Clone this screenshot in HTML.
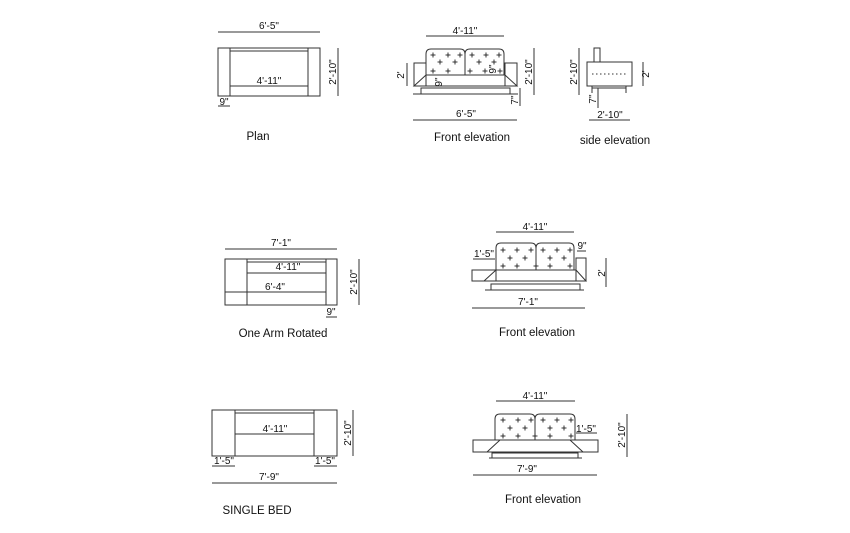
<!DOCTYPE html>
<html><head><style>html,body{margin:0;padding:0;background:#fff}svg{display:block}
text{font-family:"Liberation Sans",sans-serif;fill:#111}</style></head><body>
<svg width="850" height="533" viewBox="0 0 850 533" xmlns="http://www.w3.org/2000/svg">
<defs><g id="pl"><line x1="-2.5" y1="0" x2="2.5" y2="0"/><line x1="0" y1="-2.5" x2="0" y2="2.5"/></g></defs>
<g stroke="#333" stroke-width="1" fill="none">
<!-- Plan 1 -->
<line x1="218" y1="32" x2="320" y2="32"/>
<rect x="218" y="48" width="102" height="48"/>
<line x1="230" y1="48" x2="230" y2="96"/><line x1="308" y1="48" x2="308" y2="96"/>
<line x1="230" y1="51" x2="308" y2="51"/><line x1="230" y1="86" x2="308" y2="86"/>
<line x1="338" y1="48" x2="338" y2="96"/>
<line x1="218" y1="106" x2="230" y2="106"/>
<!-- Front elev 1 -->
<line x1="426" y1="36" x2="504" y2="36"/>
<path d="M426,75 V54 Q426,49 431,49 H460 Q465,49 465,54 V75"/>
<path d="M465,75 V54 Q465,49 470,49 H499 Q504,49 504,54 V75"/>
<rect x="414" y="63" width="12" height="23"/><rect x="505" y="63" width="12" height="23"/>
<path d="M426,75 H505 L517,86 H414 Z"/>
<line x1="413" y1="94" x2="518" y2="94"/>
<path d="M421,94 V88 H427 M510,94 V88 H504"/><line x1="427" y1="88" x2="504" y2="88"/>
<line x1="413" y1="120" x2="517" y2="120"/>
<line x1="407" y1="63" x2="407" y2="86"/><line x1="534" y1="48" x2="534" y2="95"/>
<line x1="520" y1="88" x2="520" y2="106"/>
<!-- side -->
<rect x="594" y="48" width="6" height="14"/>
<rect x="587" y="62" width="45" height="24"/>
<line x1="592" y1="74" x2="628" y2="74" stroke-dasharray="1.5,2.5"/>
<path d="M592,86 V93 M626,86 V93 M592,88 H626"/>
<line x1="579" y1="48" x2="579" y2="95"/><line x1="643" y1="62" x2="643" y2="86"/>
<line x1="598" y1="88" x2="598" y2="108"/>
<line x1="589" y1="120" x2="630" y2="120"/>
<!-- Plan 2 -->
<line x1="225" y1="249" x2="337" y2="249"/>
<rect x="225" y="259" width="112" height="46"/>
<line x1="247" y1="259" x2="247" y2="305"/><line x1="326" y1="259" x2="326" y2="305"/>
<line x1="247" y1="262" x2="326" y2="262"/><line x1="247" y1="273" x2="326" y2="273"/>
<line x1="225" y1="292" x2="326" y2="292"/>
<line x1="359" y1="259" x2="359" y2="305"/>
<line x1="326" y1="317" x2="337" y2="317"/>
<!-- Front elev 2 -->
<line x1="496" y1="232" x2="574" y2="232"/>
<path d="M496,270 V248 Q496,243 501,243 H531 Q536,243 536,248 V270"/>
<path d="M536,270 V248 Q536,243 541,243 H569 Q574,243 574,248 V270"/>
<rect x="472" y="270" width="24" height="11"/>
<rect x="576" y="258" width="10" height="23"/>
<path d="M496,270 H576 L586,281 H484 Z"/>
<line x1="485" y1="290" x2="584" y2="290"/>
<path d="M491,290 V284 H497 M580,290 V284 H574"/><line x1="497" y1="284" x2="574" y2="284"/>
<line x1="472" y1="308" x2="585" y2="308"/>
<line x1="473" y1="259" x2="495" y2="259"/><line x1="577" y1="251" x2="586" y2="251"/>
<line x1="606" y1="258" x2="606" y2="287"/>
<!-- Plan 3 -->
<rect x="212" y="410" width="125" height="46"/>
<line x1="235" y1="410" x2="235" y2="456"/><line x1="314" y1="410" x2="314" y2="456"/>
<line x1="235" y1="413" x2="314" y2="413"/><line x1="235" y1="434" x2="314" y2="434"/>
<line x1="212" y1="466" x2="235" y2="466"/><line x1="314" y1="466" x2="337" y2="466"/>
<line x1="212" y1="483" x2="337" y2="483"/>
<line x1="353" y1="410" x2="353" y2="456"/>
<!-- Front elev 3 -->
<line x1="496" y1="401" x2="575" y2="401"/>
<path d="M495,440 V419 Q495,414 500,414 H530 Q535,414 535,419 V440"/>
<path d="M535,440 V419 Q535,414 540,414 H570 Q575,414 575,419 V440"/>
<rect x="473" y="440" width="125" height="12"/>
<path d="M500,440 L487,452 M570,440 L583,452"/>
<line x1="489" y1="458" x2="582" y2="458"/>
<path d="M492,458 V453 H498 M578,458 V453 H572"/><line x1="498" y1="453" x2="572" y2="453"/>
<line x1="473" y1="475" x2="597" y2="475"/>
<line x1="576" y1="433" x2="597" y2="433"/>
<line x1="627" y1="414" x2="627" y2="457"/>
</g>
<g stroke="#222" stroke-width="0.9">
<use href="#pl" x="433" y="55"/><use href="#pl" x="448" y="55"/><use href="#pl" x="460" y="55"/>
<use href="#pl" x="440" y="62"/><use href="#pl" x="455" y="62"/>
<use href="#pl" x="433" y="71"/><use href="#pl" x="448" y="71"/>
<use href="#pl" x="472" y="55"/><use href="#pl" x="486" y="55"/><use href="#pl" x="499" y="55"/>
<use href="#pl" x="479" y="62"/><use href="#pl" x="494" y="62"/>
<use href="#pl" x="470" y="71"/><use href="#pl" x="485" y="71"/><use href="#pl" x="500" y="71"/>
<use href="#pl" x="503" y="250"/><use href="#pl" x="517" y="250"/><use href="#pl" x="531" y="250"/>
<use href="#pl" x="510" y="258"/><use href="#pl" x="525" y="258"/>
<use href="#pl" x="503" y="266"/><use href="#pl" x="517" y="266"/><use href="#pl" x="536" y="266"/>
<use href="#pl" x="543" y="250"/><use href="#pl" x="557" y="250"/><use href="#pl" x="570" y="250"/>
<use href="#pl" x="550" y="258"/><use href="#pl" x="564" y="258"/>
<use href="#pl" x="550" y="266"/><use href="#pl" x="570" y="266"/>
<use href="#pl" x="503" y="420"/><use href="#pl" x="518" y="420"/><use href="#pl" x="531" y="420"/>
<use href="#pl" x="510" y="428"/><use href="#pl" x="525" y="428"/>
<use href="#pl" x="503" y="436"/><use href="#pl" x="518" y="436"/><use href="#pl" x="535" y="436"/>
<use href="#pl" x="543" y="420"/><use href="#pl" x="557" y="420"/><use href="#pl" x="571" y="420"/>
<use href="#pl" x="550" y="428"/><use href="#pl" x="564" y="428"/>
<use href="#pl" x="550" y="436"/><use href="#pl" x="571" y="436"/>
</g>
<g font-size="10" text-anchor="middle">
<text x="269" y="29">6'-5"</text>
<text x="269" y="84">4'-11"</text>
<text x="224" y="105">9"</text>
<text x="336" y="72" transform="rotate(-90 336 72)" dominant-baseline="auto">2'-10"</text>
<text x="465" y="34">4'-11"</text>
<text x="466" y="117">6'-5"</text>
<text x="404" y="75" transform="rotate(-90 404 75)">2'</text>
<text x="532" y="72" transform="rotate(-90 532 72)">2'-10"</text>
<text x="518" y="100" transform="rotate(-90 518 100)">7"</text>
<text x="442" y="82" transform="rotate(-90 442 82)">9"</text>
<text x="496" y="69" transform="rotate(-90 496 69)">9"</text>
<text x="577" y="72" transform="rotate(-90 577 72)">2'-10"</text>
<text x="649" y="74" transform="rotate(-90 649 74)">2'</text>
<text x="596" y="99" transform="rotate(-90 596 99)">7"</text>
<text x="610" y="118">2'-10"</text>
<text x="281" y="246">7'-1"</text>
<text x="288" y="270">4'-11"</text>
<text x="275" y="290">6'-4"</text>
<text x="357" y="282" transform="rotate(-90 357 282)">2'-10"</text>
<text x="331" y="315">9"</text>
<text x="535" y="230">4'-11"</text>
<text x="484" y="257">1'-5"</text>
<text x="582" y="249">9"</text>
<text x="605" y="273" transform="rotate(-90 605 273)">2'</text>
<text x="528" y="305">7'-1"</text>
<text x="275" y="432">4'-11"</text>
<text x="224" y="464">1'-5"</text>
<text x="325" y="464">1'-5"</text>
<text x="269" y="480">7'-9"</text>
<text x="351" y="433" transform="rotate(-90 351 433)">2'-10"</text>
<text x="535" y="399">4'-11"</text>
<text x="586" y="432">1'-5"</text>
<text x="527" y="472">7'-9"</text>
<text x="625" y="435" transform="rotate(-90 625 435)">2'-10"</text>
</g>
<g font-size="11.5" text-anchor="middle">
<text x="258" y="140">Plan</text>
<text x="472" y="141">Front elevation</text>
<text x="615" y="144">side elevation</text>
<text x="283" y="337">One Arm Rotated</text>
<text x="537" y="336">Front elevation</text>
<text x="257" y="514">SINGLE BED</text>
<text x="543" y="503">Front elevation</text>
</g>
</svg>
</body></html>
